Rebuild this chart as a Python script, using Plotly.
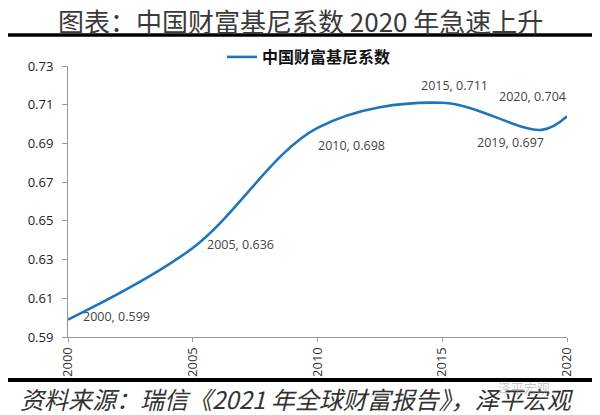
import plotly.graph_objects as go

# 中国财富基尼系数
years = [2000, 2005, 2010, 2015, 2019, 2020]
gini = [0.599, 0.636, 0.698, 0.711, 0.697, 0.704]
point_labels = [f"{y}, {v:.3f}" for y, v in zip(years, gini)]
# label offsets in px (x, y), as placed in the original chart
label_shift = [(48, 3), (48, 3), (34, -18), (12, 17), (-32, -13), (-35, 20)]

x_ticks = [2000, 2005, 2010, 2015, 2020]
y_ticks = [0.59, 0.61, 0.63, 0.65, 0.67, 0.69, 0.71, 0.73]

title_text = "图表：中国财富基尼系数 2020 年急速上升"
source_text = "资料来源：瑞信《2021 年全球财富报告》，泽平宏观"
series_name = "中国财富基尼系数"
watermark = "泽平宏观"

cjk = "Noto Sans CJK SC"
blue = "#1F74BE"

# the page body adds an 8px margin, so the figure is laid out 8px up/left
OFF = 8
W, H = 600, 415
pw, ph = 499, 271
L, T = 68 - OFF, 66 - OFF
R, B = W - L - pw, H - T - ph


# pixel position in the screenshot -> paper coordinates
def px(x):
    return (x - OFF - L) / pw


def py(y):
    return (T + ph - (y - OFF)) / ph


fig = go.Figure()
fig.add_trace(go.Scatter(
    x=years, y=gini, mode="lines", name=series_name,
    line=dict(color=blue, width=2.6, shape="spline", smoothing=1.0),
))

for x, y, t, (dx, dy) in zip(years, gini, point_labels, label_shift):
    fig.add_annotation(x=x, y=y, text=t, showarrow=False, xshift=dx, yshift=dy,
                       font=dict(family="Open Sans, Liberation Sans", size=12.5, color="#444"))

# title, source and watermark
fig.add_annotation(x=px(300), y=py(20), xref="paper", yref="paper", text=title_text,
                   showarrow=False, yanchor="middle",
                   font=dict(family=cjk, size=26, color="#3a3a3a"))
fig.add_annotation(x=px(297), y=py(398), xref="paper", yref="paper", text="<i>" + source_text + "</i>",
                   showarrow=False, yanchor="middle",
                   font=dict(family=cjk, size=24, color="#333"))
fig.add_annotation(x=px(552), y=py(388), xref="paper", yref="paper", text=watermark,
                   showarrow=False, yanchor="middle",
                   font=dict(family=cjk, size=13, color="rgba(150,150,150,0.55)"))

# black rules under the title and above the source
fig.add_shape(type="line", xref="paper", yref="paper", x0=px(4), x1=px(594),
              y0=py(35), y1=py(35), line=dict(color="black", width=3.5))
fig.add_shape(type="line", xref="paper", yref="paper", x0=px(4), x1=px(594),
              y0=py(380), y1=py(380), line=dict(color="black", width=4))

fig.update_layout(
    width=W, height=H,
    margin=dict(l=L, r=R, t=T, b=B, autoexpand=False),
    plot_bgcolor="white", paper_bgcolor="white",
    showlegend=True,
    legend=dict(orientation="h", x=px(222), xanchor="left", y=py(57), yanchor="middle",
                font=dict(family=cjk, size=16, color="#111", weight="bold"),
                itemwidth=30, bgcolor="rgba(0,0,0,0)"),
    xaxis=dict(range=[2000, 2020], tickvals=x_ticks, tickangle=-90, showgrid=False,
               showline=True, linecolor="#999", linewidth=1, ticks="outside", ticklen=4,
               tickcolor="#999", tickfont=dict(family="Open Sans", size=13, color="#333"),
               zeroline=False),
    yaxis=dict(range=[0.59, 0.73], tickvals=y_ticks, tickformat=".2f", showgrid=False,
               showline=True, linecolor="#999", linewidth=1, ticks="outside", ticklen=5,
               tickcolor="#999", tickfont=dict(family="Open Sans", size=13, color="#222"),
               ticklabelstandoff=6, zeroline=False),
)

fig.write_html("out.html")
